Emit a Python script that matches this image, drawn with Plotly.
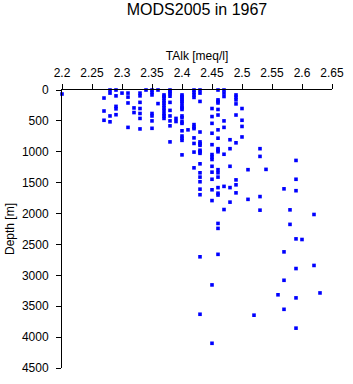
import plotly.graph_objects as go

# TAlk column values [meq/l] and depths [m] observed at each value
talk_levels = [2.20, 2.27, 2.28, 2.29, 2.30, 2.31, 2.32, 2.33, 2.34, 2.35, 2.36,
               2.37, 2.38, 2.39, 2.40, 2.41, 2.42, 2.43, 2.45, 2.46, 2.47, 2.48,
               2.49, 2.50, 2.51, 2.52, 2.53, 2.54, 2.56, 2.57, 2.58, 2.59, 2.60,
               2.62, 2.63]

depths_at_level = [
    [65],
    [130, 340, 490],
    [0, 50, 420, 515],
    [0, 95, 265, 305, 400],
    [50],
    [50, 115, 210, 605],
    [290, 365],
    [50, 95, 200, 300, 380, 460, 630],
    [0],
    [0, 40, 80, 380, 420, 500, 620],
    [0, 220],
    [80, 105, 130, 175, 210, 250, 290, 330, 385, 420, 460],
    [0, 30, 60, 100, 200, 330, 420, 500, 580, 840],
    [460, 510],
    [80, 105, 130, 160, 185, 220, 265, 290, 315, 420, 450, 515, 540, 660, 745, 780, 815, 1050],
    [645],
    [0, 40, 80, 120, 560, 600, 625, 775, 865, 1005, 1260],
    [0, 50, 185, 680, 840, 870, 895, 975, 1000, 1025, 1195, 1340, 1410, 1485, 1605, 1695, 2700, 3630],
    [300, 430, 540, 700, 885, 1045, 1085, 1125, 1235, 1330, 1445, 1615, 1790, 3155, 4100],
    [0, 160, 185, 210, 315, 405, 645, 780, 950, 975, 1000, 1290, 1340, 1410, 1580, 1670, 1700, 2160, 2240, 2660],
    [0, 50, 105, 500, 605, 1040, 1560, 1935],
    [805, 950, 1235, 1580, 1815],
    [80, 115, 160, 225, 405, 855, 1455, 1535, 1665],
    [300, 490, 590, 760],
    [1290, 1770],
    [3645],
    [950, 1075, 1725, 1945],
    [1285],
    [3315],
    [1600, 2620, 3080, 3550],
    [1940, 2175],
    [1140, 1445, 1630, 2410, 2890, 3365, 3855],
    [2420],
    [2015, 2840],
    [3285],
]

x_ticks = [2.2, 2.25, 2.3, 2.35, 2.4, 2.45, 2.5, 2.55, 2.6, 2.65]
x_tick_labels = ["2.2", "2.25", "2.3", "2.35", "2.4", "2.45", "2.5", "2.55", "2.6", "2.65"]
y_ticks = [0, 500, 1000, 1500, 2000, 2500, 3000, 3500, 4000, 4500]

talk = []
depth = []
for t, ds in zip(talk_levels, depths_at_level):
    for d in ds:
        talk.append(t)
        depth.append(d)

fig = go.Figure()
fig.add_trace(go.Scatter(
    x=talk, y=depth, mode="markers",
    marker=dict(symbol="square", size=3.6, color="#0000ff", line=dict(width=0)),
    cliponaxis=False, showlegend=False,
))

font_family = "Liberation Sans, Arial, Helvetica, sans-serif"

fig.update_layout(
    width=353, height=384,
    margin=dict(l=54, r=13, t=90, b=9),
    paper_bgcolor="white", plot_bgcolor="white",
    font=dict(family=font_family, size=12, color="black"),
    title=dict(text="MODS2005 in 1967", x=197 / 353, xanchor="center",
               y=1 - 9 / 384, yanchor="middle",
               font=dict(size=16, color="black", family=font_family)),
    xaxis=dict(
        side="top", range=[2.2, 2.65], tickvals=x_ticks, ticktext=x_tick_labels,
        ticks="outside", ticklen=5, tickwidth=1, tickcolor="black",
        showline=True, linecolor="black", linewidth=1,
        showgrid=False, zeroline=False,
        title=dict(text="TAlk [meq/l]", standoff=3, font=dict(size=12)),
        tickfont=dict(size=12), ticklabelstandoff=2,
    ),
    yaxis=dict(
        range=[4500, 0], tickvals=y_ticks,
        ticks="outside", ticklen=5, tickwidth=1, tickcolor="black",
        showline=True, linecolor="black", linewidth=1,
        showgrid=False, zeroline=False,
        title=dict(text="Depth [m]", standoff=4, font=dict(size=12)),
        tickfont=dict(size=12), ticklabelstandoff=5,
    ),
)

fig.write_html("out.html")
